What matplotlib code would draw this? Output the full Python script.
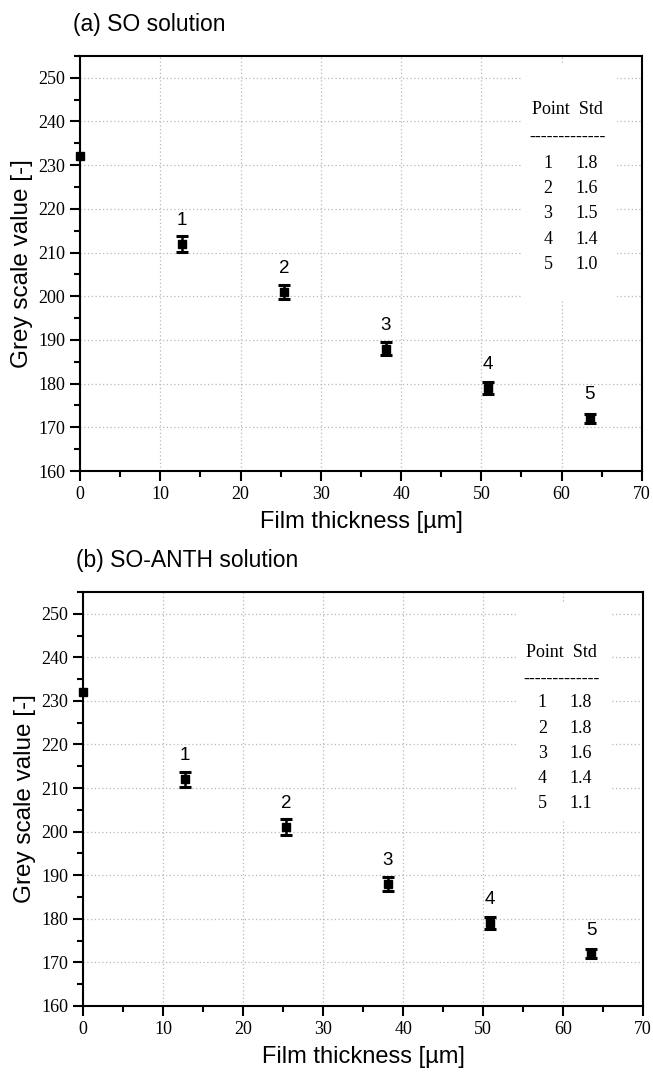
import matplotlib
matplotlib.use("Agg")
import matplotlib.pyplot as plt
from matplotlib.patches import Rectangle
from matplotlib.ticker import MultipleLocator

# data
thickness = [0, 12.7, 25.4, 38.1, 50.8, 63.5]
grey_a = [232, 212, 201, 188, 179, 172]
std_a = [0, 1.8, 1.6, 1.5, 1.4, 1.0]
grey_b = [232, 212, 201, 188, 179, 172]
std_b = [0, 1.8, 1.8, 1.6, 1.4, 1.1]
point_ids = ["1", "2", "3", "4", "5"]
titles = ["(a) SO solution", "(b) SO-ANTH solution"]

SANS = "Liberation Sans"
SERIF = "Liberation Serif"


def draw_panel(ax, y, err, title, tab):
    ax.set_xlim(0, 70)
    ax.set_ylim(160, 255)
    ax.set_axisbelow(True)
    ax.grid(True, linestyle=(0, (1, 2)), color="#b8b8b8", linewidth=0.9)

    # white box behind the little std table (hides the grid)
    ax.add_patch(Rectangle((tab["box"][0], tab["box"][1]), tab["box"][2], tab["box"][3],
                           transform=ax.transAxes, facecolor="white", edgecolor="none", zorder=1))

    ax.errorbar(thickness[1:], y[1:], yerr=err[1:], fmt="s", color="black", ms=6,
                capsize=4.5, capthick=2.2, elinewidth=1.8, zorder=3)
    ax.plot(thickness[0], y[0], "s", color="black", ms=6, clip_on=False, zorder=3)

    for xi, yi, lab in zip(thickness[1:], y[1:], point_ids):
        ax.annotate(lab, (xi, yi), xytext=(0, 17), textcoords="offset points",
                    ha="center", va="center", fontsize=13.5, family=SANS)

    # table text
    tx1, tx2, ty0, dy = tab["x1"], tab["x2"], tab["y0"], tab["dy"]
    ax.text((tx1 + tx2) / 2, tab["yh"], "Point  Std", transform=ax.transAxes,
            ha="center", va="center", fontsize=13, family=SERIF, zorder=2)
    ax.text((tx1 + tx2) / 2, tab["yd"], "-" * 13, transform=ax.transAxes,
            ha="center", va="center", fontsize=13, family=SERIF, zorder=2)
    for i, (lab, s) in enumerate(zip(point_ids, err[1:])):
        ax.text(tx1, ty0 - i * dy, lab, transform=ax.transAxes, ha="center", va="center",
                fontsize=13, family=SERIF, zorder=2)
        ax.text(tx2, ty0 - i * dy, "%.1f" % s, transform=ax.transAxes, ha="center",
                va="center", fontsize=13, family=SERIF, zorder=2)

    ax.xaxis.set_major_locator(MultipleLocator(10))
    ax.xaxis.set_minor_locator(MultipleLocator(5))
    ax.yaxis.set_major_locator(MultipleLocator(10))
    ax.yaxis.set_minor_locator(MultipleLocator(5))
    ax.tick_params(which="major", direction="out", length=7, width=1.5,
                   labelsize=13, top=False, right=False)
    ax.tick_params(which="minor", direction="out", length=4, width=1.5, top=False, right=False)
    for lab in ax.get_xticklabels() + ax.get_yticklabels():
        lab.set_family(SERIF)
    for sp in ax.spines.values():
        sp.set_linewidth(1.5)

    ax.set_xlabel("Film thickness [\u00b5m]", fontsize=17, family=SANS, labelpad=6)
    ax.set_ylabel("Grey scale value [-]", fontsize=17.5, family=SANS, labelpad=4)
    ax.text(-0.012, 1.075, title, transform=ax.transAxes, fontsize=16.5, family=SANS,
            ha="left", va="center")


fig = plt.figure(figsize=(6.53, 10.72), dpi=100)
ax_a = fig.add_axes([0.1225, 0.5606, 0.8605, 0.3872])
ax_b = fig.add_axes([0.127, 0.0616, 0.858, 0.3862])

tab_a = dict(box=(0.785, 0.41, 0.17, 0.57), x1=0.833, x2=0.902,
             yh=0.870, yd=0.805, y0=0.742, dy=0.061)
tab_b = dict(box=(0.775, 0.45, 0.17, 0.52), x1=0.820, x2=0.889,
             yh=0.853, yd=0.788, y0=0.732, dy=0.061)

draw_panel(ax_a, grey_a, std_a, titles[0], tab_a)
draw_panel(ax_b, grey_b, std_b, titles[1], tab_b)

fig.savefig("out.png", dpi=100)
